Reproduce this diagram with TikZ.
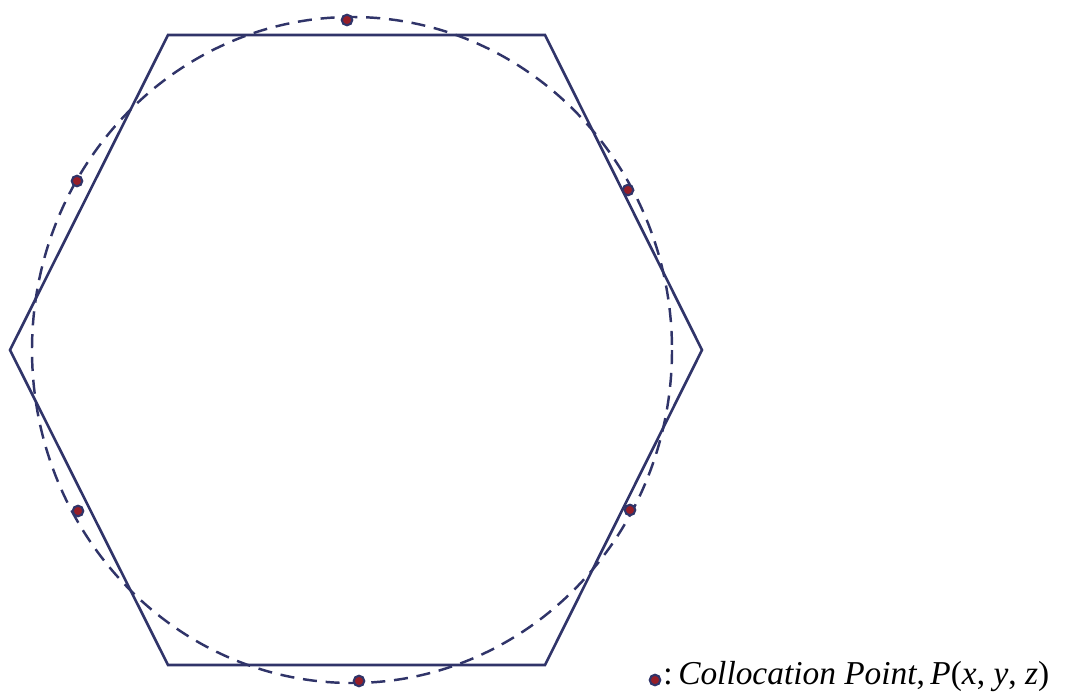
\documentclass[tikz,border=0pt]{standalone}
\usepackage{fontspec}
\setmainfont{Liberation Serif}
\usetikzlibrary{positioning}
\definecolor{hexblue}{RGB}{48,52,105}
\definecolor{ptred}{RGB}{150,30,40}
\tikzset{
  hexline/.style={draw=hexblue, line width=1.5pt, line join=miter},
  circline/.style={draw=hexblue, line width=1.4pt, dash pattern=on 8pt off 5pt},
  colpt/.style={circle, fill=ptred, draw=hexblue, line width=1.2pt, inner sep=0pt, minimum size=6pt}
}
\begin{document}
\begin{tikzpicture}[x=0.02cm, y=-0.02cm]
  \useasboundingbox (0,0) rectangle (1065,693);
  \def\cx{352}
  \def\cy{350}
  % hexagon corners
  \coordinate (h1) at (10,350);
  \coordinate (h2) at (168,35);
  \coordinate (h3) at (545,35);
  \coordinate (h4) at (702,350);
  \coordinate (h5) at (545,665);
  \coordinate (h6) at (168,665);
  \draw[hexline] (h1) -- (h2) -- (h3) -- (h4) -- (h5) -- (h6) -- cycle;
  % dashed circle through the collocation points
  \draw[circline] (\cx,\cy) ellipse [x radius=320, y radius=333];
  \foreach \name/\px/\py in {p1/347/20, p2/77/181, p3/628/190, p4/630/510, p5/78/511, p6/359/681} {
    \node[colpt] (\name) at (\px,\py) {};
  }
  % legend
  \node[colpt] (legdot) at (655,680) {};
  \node[right=1pt of legdot, inner sep=0pt, font=\fontsize{19}{22}\selectfont, yshift=2pt] (legtext)
    {:\,\textit{Collocation Point},\,\textit{P}(\textit{x}, \textit{y}, \textit{z})};
\end{tikzpicture}
\end{document}
